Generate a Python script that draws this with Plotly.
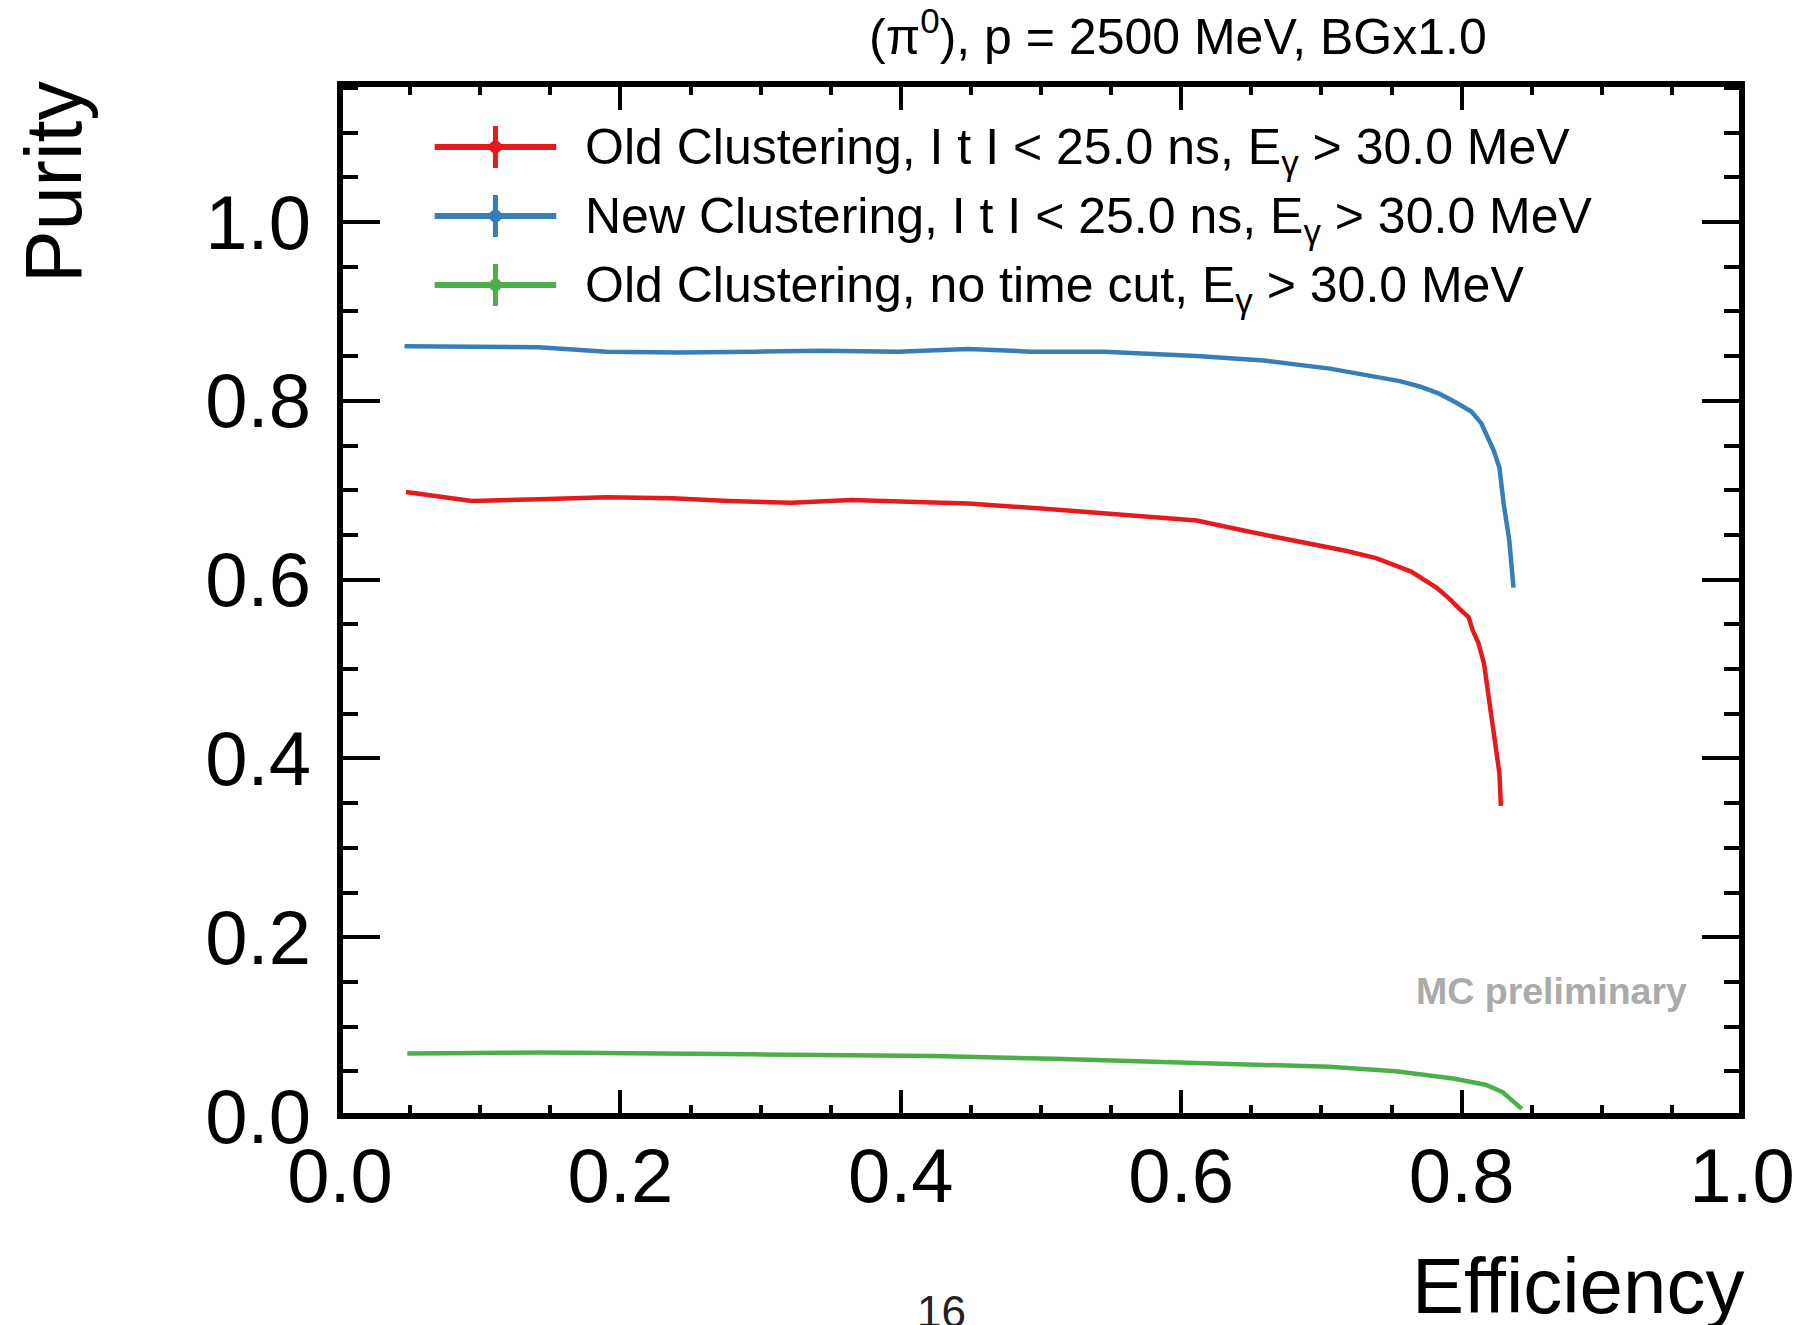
import plotly.graph_objects as go

# ---------------- data ----------------
red_x = [0.047, 0.094, 0.142, 0.190, 0.237, 0.277, 0.322, 0.365, 0.405, 0.448, 0.505,
         0.552, 0.611, 0.647, 0.682, 0.718, 0.739, 0.764, 0.782, 0.791, 0.798, 0.805,
         0.808, 0.812, 0.816, 0.819, 0.823, 0.827, 0.828]
red_y = [0.698, 0.688, 0.690, 0.692, 0.691, 0.688, 0.686, 0.689, 0.687, 0.685, 0.679,
         0.673, 0.666, 0.654, 0.643, 0.632, 0.624, 0.609, 0.591, 0.579, 0.568, 0.558,
         0.543, 0.529, 0.506, 0.473, 0.428, 0.383, 0.347]

blue_x = [0.046, 0.095, 0.142, 0.190, 0.242, 0.296, 0.343, 0.398, 0.448, 0.493, 0.545,
          0.611, 0.659, 0.706, 0.741, 0.756, 0.770, 0.784, 0.796, 0.807, 0.814, 0.819,
          0.823, 0.827, 0.830, 0.834, 0.837]
blue_y = [0.861, 0.860, 0.860, 0.855, 0.854, 0.855, 0.856, 0.855, 0.858, 0.855, 0.855,
          0.850, 0.845, 0.836, 0.827, 0.822, 0.816, 0.808, 0.798, 0.788, 0.775, 0.759,
          0.744, 0.725, 0.685, 0.644, 0.591]

green_x = [0.048, 0.143, 0.294, 0.423, 0.509, 0.596, 0.647, 0.706, 0.753, 0.794, 0.817,
           0.829, 0.843]
green_y = [0.070, 0.071, 0.069, 0.067, 0.064, 0.060, 0.058, 0.055, 0.050, 0.042, 0.035,
           0.027, 0.008]

series_names = [
    "Old Clustering, I t I &lt; 25.0 ns, E<sub>γ</sub> &gt; 30.0 MeV",
    "New Clustering, I t I &lt; 25.0 ns, E<sub>γ</sub> &gt; 30.0 MeV",
    "Old Clustering, no time cut, E<sub>γ</sub> &gt; 30.0 MeV",
]
series_colors = ["#e41a1c", "#377eb8", "#4daf4a"]

title_text = "(π<sup>0</sup>), p = 2500 MeV, BGx1.0"
x_title = "Efficiency"
y_title = "Purity"
watermark = "MC preliminary"
page_number = "16"

# ---------------- layout geometry ----------------
W, H = 1807, 1325
L, R, T, B = 340, 1747, 84, 1116
FONT = "Liberation Sans"


def px(x):
    return (x - L) / (R - L)


def py(y):
    return (B - y) / (B - T)


fig = go.Figure()
for xs, ys, c in zip([red_x, blue_x, green_x], [red_y, blue_y, green_y], series_colors):
    fig.add_trace(go.Scatter(x=xs, y=ys, mode="lines",
                             line=dict(color=c, width=4.5),
                             showlegend=False, hoverinfo="skip"))

fig.update_layout(
    width=W, height=H,
    margin=dict(l=L, r=W - R, t=T, b=H - B, pad=0),
    paper_bgcolor="white", plot_bgcolor="white",
    font=dict(family=FONT, color="black"),
    showlegend=False,
)

common = dict(ticks="inside", tickwidth=4, tickcolor="black", showgrid=False,
              zeroline=False, showline=False, linewidth=6, mirror="ticks",
              tickformat=".1f", tick0=0, dtick=0.2,
              tickfont=dict(size=76, family=FONT, color="black"))
fig.update_xaxes(range=[0, 1], ticklen=26, ticklabelstandoff=9,
                 minor=dict(dtick=0.05, tick0=0, ticks="inside", ticklen=11,
                            tickwidth=4, tickcolor="black", showgrid=False),
                 **common)
fig.update_yaxes(range=[0, (B - T) / 894.0], ticklen=40, ticklabelstandoff=28,
                 minor=dict(dtick=0.05, tick0=0, ticks="inside", ticklen=18,
                            tickwidth=4, tickcolor="black", showgrid=False),
                 **common)

shapes = [dict(type="rect", xref="paper", yref="paper", x0=0, x1=1, y0=0, y1=1,
               line=dict(color="black", width=6), layer="above")]
annotations = []

# legend (drawn by hand, ROOT style)
row_y = [147, 216, 285]
for name, c, ry in zip(series_names, series_colors, row_y):
    shapes.append(dict(type="line", xref="paper", yref="paper",
                       x0=px(435), x1=px(557), y0=py(ry), y1=py(ry),
                       line=dict(color=c, width=6)))
    shapes.append(dict(type="line", xref="paper", yref="paper",
                       x0=px(496), x1=px(496), y0=py(ry - 21), y1=py(ry + 21),
                       line=dict(color=c, width=5)))
    shapes.append(dict(type="circle", xref="paper", yref="paper",
                       x0=px(490), x1=px(502), y0=py(ry - 6), y1=py(ry + 6),
                       line=dict(color=c, width=1), fillcolor=c))
    annotations.append(dict(text=name, xref="paper", yref="paper",
                            x=px(584), y=py(ry + 3), xanchor="left", yanchor="middle",
                            showarrow=False, font=dict(size=50, family=FONT, color="black")))

# title
annotations.append(dict(text=title_text, xref="paper", yref="paper",
                        x=px(1181), y=py(33), xanchor="center", yanchor="middle",
                        showarrow=False, font=dict(size=50, family=FONT, color="black")))
# axis titles
annotations.append(dict(text=x_title, xref="paper", yref="paper",
                        x=px(1751), y=py(1286), xanchor="right", yanchor="middle",
                        showarrow=False, font=dict(size=78, family=FONT, color="black")))
annotations.append(dict(text=y_title, xref="paper", yref="paper",
                        x=px(52), y=py(79), xanchor="center", yanchor="top",
                        textangle=-90,
                        showarrow=False, font=dict(size=79, family=FONT, color="black")))
# watermark
annotations.append(dict(text="<b>" + watermark + "</b>", xref="paper", yref="paper",
                        x=px(1556), y=py(991), xanchor="center", yanchor="middle",
                        showarrow=False, font=dict(size=37.5, family=FONT, color="#a9abaa")))
# page number
annotations.append(dict(text=page_number, xref="paper", yref="paper",
                        x=px(944), y=py(1285), xanchor="center", yanchor="top",
                        showarrow=False, font=dict(size=44, family=FONT, color="#222222")))

fig.update_layout(shapes=shapes, annotations=annotations)
fig.write_html("out.html")
